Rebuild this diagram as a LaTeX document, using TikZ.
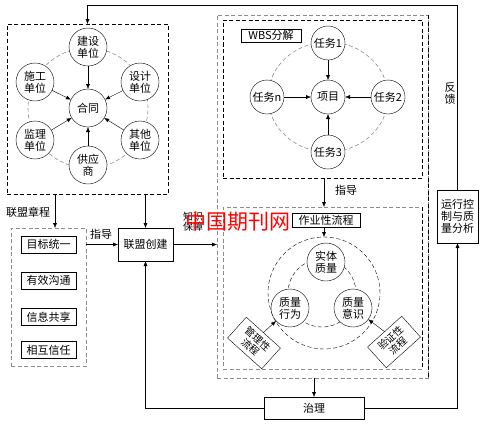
\documentclass[tikz,border=0pt]{standalone}
\usepackage{fontspec}
\setmainfont{Noto Sans CJK SC}
\usetikzlibrary{arrows.meta}
\tikzset{
  txt/.style={font=\fontsize{11}{12}\selectfont, align=center, inner sep=0pt},
  circ/.style={circle, draw, thin, fill=white, minimum size=38pt, inner sep=0pt, outer sep=0pt, align=center, font=\fontsize{11}{12}\selectfont},
  tcirc/.style={circ, minimum size=34pt},
  sbox/.style={draw, thin, fill=white, inner sep=0pt, outer sep=0pt, align=center, font=\fontsize{11}{12}\selectfont},
  rbox/.style={sbox, minimum width=46pt, minimum height=28pt, font=\fontsize{10}{11}\selectfont},
  frame/.style={inner sep=0pt, outer sep=0pt},
  bdash/.style={draw=black, thin, dash pattern=on 4pt off 2.5pt},
  gdash/.style={draw=black!45, line width=0.9pt, dash pattern=on 4pt off 2.5pt},
  arr/.style={thin, -{Latex[length=5pt,width=4pt]}},
}
\begin{document}
\begin{tikzpicture}[x=1pt,y=-1pt]
\useasboundingbox (0,0) rectangle (481,423);

% ---------- left top: alliance members ----------
\node[frame, bdash, minimum width=161pt, minimum height=170pt] (L) at (87.5,109) {};
\draw[gdash, line width=0.6pt] (88,108) circle[radius=60pt];
\node[circ] (ht) at (88,108) {合同};
\node[circ] (js) at (88,47) {建设\\单位};
\node[circ] (sg) at (35,82) {施工\\单位};
\node[circ] (sj) at (140,82) {设计\\单位};
\node[circ] (jl) at (35,140) {监理\\单位};
\node[circ] (qt) at (140,140) {其他\\单位};
\node[circ] (gy) at (88,165) {供应\\商};
\foreach \n in {js,sg,sj,jl,qt,gy} \draw[arr] (\n) -- (ht);

% ---------- left bottom: charter ----------
\node[frame, gdash, minimum width=75pt, minimum height=138pt] (G) at (48.5,297) {};
\node[sbox, minimum width=55pt, minimum height=17pt] (b1) at (48.5,244.5) {目标统一};
\node[sbox, minimum width=55pt, minimum height=17pt] (b2) at (48.5,280.5) {有效沟通};
\node[sbox, minimum width=55pt, minimum height=17pt] (b3) at (48.5,317) {信息共享};
\node[sbox, minimum width=55pt, minimum height=17pt] (b4) at (48.5,350) {相互信任};
\draw[arr] (L.south -| 55,0) -- (G.north -| 55,0);
\node[txt] (zc) at (28,212) {联盟章程};

% ---------- alliance creation ----------
\node[sbox, minimum width=55pt, minimum height=33pt] (lm) at (145.5,244.5) {联盟创建};
\draw[arr] (L.south -| lm.north) -- (lm.north);
\draw[arr] (G.east |- lm.west) -- (lm.west);
\node[txt] (zd1) at (101,234) {指导};

% ---------- right big box ----------
\node[frame, gdash, minimum width=211pt, minimum height=363pt] (R) at (322.5,196.5) {};
\draw[bdash] (R.north east) -- (R.south east);
\draw[arr] (lm.east) -- (lm.east -| R.west);
\node[txt, font=\fontsize{10}{10}\selectfont] (zs) at (193,222) {知识\\保障};

% WBS box
\node[frame, bdash, minimum width=199pt, minimum height=158pt] (W) at (322.5,99) {};
\node[sbox, minimum width=60pt, minimum height=13pt] (wbs) at (271,35.5) {WBS分解};
\draw[gdash, line width=0.6pt] (328,97) ellipse[x radius=60pt, y radius=55pt];
\node[tcirc] (xm) at (328,97) {项目};
\node[tcirc] (t1) at (328,43) {任务1};
\node[tcirc] (tn) at (267,97) {任务n};
\node[tcirc] (t2) at (388,97) {任务2};
\node[tcirc] (t3) at (328,152) {任务3};
\foreach \n in {t1,tn,t2,t3} \draw[arr] (\n) -- (xm);

% process box
\node[frame, gdash, minimum width=199pt, minimum height=162pt] (P) at (322.5,288) {};
\draw[bdash] (P.north east) -- (P.south east);
\draw[arr] (W.south -| 324,0) -- (P.north -| 324,0);
\node[txt] (zd2) at (346,190) {指导};
\node[sbox, minimum width=68pt, minimum height=14pt] (zy) at (326,220) {作业性流程};
\node[circle, bdash, minimum size=112pt, inner sep=0pt, outer sep=0pt] (BC) at (324,293) {};
\draw[arr] (zy.south -| 324,0) -- (BC.north);
\draw[bdash] (322,293) circle[radius=34pt];
\node[circ] (st) at (326,262) {实体\\质量};
\node[circ] (xw) at (290,308) {质量\\行为};
\node[circ] (ys) at (353,308) {质量\\意识};
\node[rbox, rotate=-42] (gl) at (254,343) {管理性\\流程};
\node[rbox, rotate=42] (yz) at (394,342) {验证性\\流程};
\draw[arr] (gl.north) -- (xw);
\draw[arr] (yz.north) -- (ys);

% ---------- feedback / control ----------
\node[sbox, minimum width=41pt, minimum height=53pt] (yx) at (457.5,216.5) {运行控\\制与质\\量分析};
\node[sbox, minimum width=100pt, minimum height=22pt] (zl) at (314,408) {治理};
\draw[arr] (zl.north |- R.south) -- (zl.north);
\draw[arr] (zl.east) -| (yx.south);
\draw[arr] (zl.west) -| (lm.south);
\draw[arr] (yx.north) -- (yx.north |- 0,5) -| (L.north);
\node[txt] (fk) at (450,93) {反\\馈};

% ---------- watermark ----------
\node[text=red, inner sep=0pt, font=\fontsize{21}{21}\selectfont] (wm) at (238,222) {中国期刊网};
\end{tikzpicture}
\end{document}
